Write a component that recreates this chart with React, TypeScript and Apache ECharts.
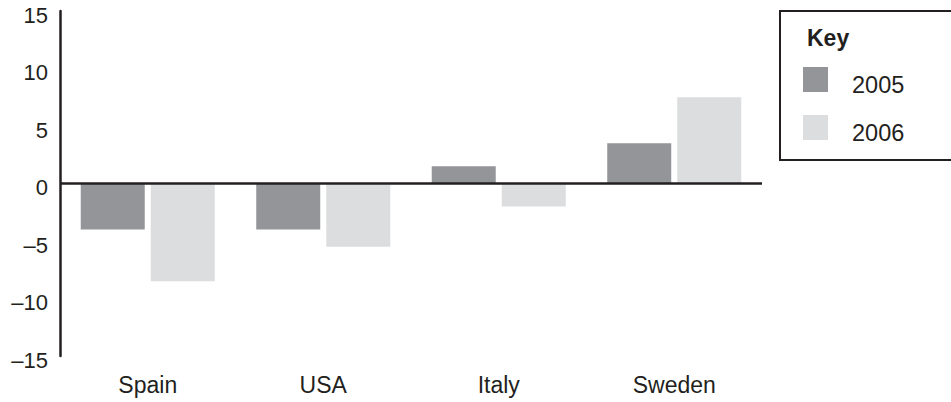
import React, { useEffect, useRef } from "react";
import * as echarts from "echarts";

const categories = ["Spain", "USA", "Italy", "Sweden"];
const seriesNames = ["2005", "2006"];
const values2005 = [-4, -4, 1.5, 3.5];
const values2006 = [-8.5, -5.5, -2, 7.5];
const yTicks = { min: -15, max: 15, interval: 5 };

const DARK = "#231f20";
const FONT = "'Liberation Sans', Arial, Helvetica, sans-serif";

export default function App() {
  const ref = useRef<HTMLDivElement>(null);
  useEffect(() => {
    if (!ref.current) return;
    const chart = echarts.init(ref.current, null, { renderer: "svg" });
    chart.setOption({
      animation: false,
      backgroundColor: "#ffffff",
      textStyle: { fontFamily: FONT, color: DARK },
      grid: { left: 60, right: 189, top: 11, bottom: 46, containLabel: false },
      title: {
        text: "Key",
        left: 802,
        top: 21,
        textStyle: { fontFamily: FONT, fontSize: 23, fontWeight: "bold", color: DARK },
      },
      graphic: [
        {
          type: "line",
          shape: { x1: 780, y1: 11, x2: 951, y2: 11 },
          style: { stroke: DARK, lineWidth: 2 },
          silent: true,
        },
        {
          type: "line",
          shape: { x1: 780, y1: 10, x2: 780, y2: 161 },
          style: { stroke: DARK, lineWidth: 2 },
          silent: true,
        },
        {
          type: "line",
          shape: { x1: 780, y1: 160, x2: 951, y2: 160 },
          style: { stroke: DARK, lineWidth: 2 },
          silent: true,
        },
      ],
      legend: {
        data: seriesNames,
        orient: "vertical",
        left: 780,
        top: 11,
        padding: [56, 10, 20, 23],
        itemWidth: 25,
        itemHeight: 25,
        itemGap: 18,
        icon: "rect",
        formatter: "{t|{name}}",
        textStyle: {
          fontFamily: FONT,
          fontSize: 23.5,
          color: DARK,
          rich: {
            t: {
              fontFamily: FONT,
              fontSize: 23.5,
              color: DARK,
              padding: [11, 0, 0, 19],
            },
          },
        },
      },
      xAxis: {
        type: "category",
        data: categories,
        axisLine: { show: false, onZero: false },
        axisTick: { show: false },
        splitLine: { show: false },
        axisLabel: { margin: 17, fontFamily: FONT, fontSize: 23, color: DARK },
      },
      yAxis: {
        type: "value",
        min: yTicks.min,
        max: yTicks.max,
        interval: yTicks.interval,
        axisLine: { show: true, lineStyle: { color: DARK, width: 2.5 } },
        axisTick: { show: false },
        splitLine: { show: false },
        axisLabel: {
          margin: 12,
          fontFamily: FONT,
          fontSize: 22,
          color: DARK,
          verticalAlign: "top",
          lineHeight: 8,
          formatter: (v: number) => (v < 0 ? "\u2013" + Math.abs(v) : String(v)),
        },
      },
      series: [
        {
          name: seriesNames[0],
          type: "bar",
          data: values2005,
          barWidth: 64,
          barGap: "9.4%",
          itemStyle: { color: "#939598" },
          markLine: {
            silent: true,
            symbol: "none",
            label: { show: false },
            lineStyle: { color: DARK, width: 2.5, type: "solid" },
            data: [{ yAxis: 0 }],
          },
          z: 1,
        },
        {
          name: seriesNames[1],
          type: "bar",
          data: values2006,
          barWidth: 64,
          barGap: "9.4%",
          itemStyle: { color: "#dcddde" },
          z: 1,
        },
      ],
    });
    return () => chart.dispose();
  }, []);
  return (
    <div
      ref={ref}
      style={{ position: "fixed", left: 0, top: 0, width: 951, height: 402, background: "#fff" }}
    />
  );
}
